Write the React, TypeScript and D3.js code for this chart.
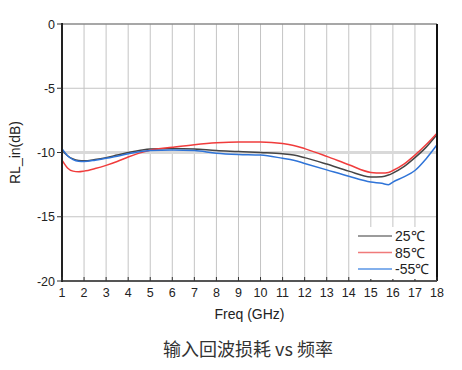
import React from "react";
import * as d3 from "d3";

const freq = [1, 1.25, 1.5, 1.75, 2, 2.5, 3, 3.5, 4, 4.5, 5, 6, 7, 8, 9, 10, 11, 11.5, 12, 13, 14, 15, 15.5, 15.8, 16, 16.5, 17, 17.5, 18];
const rl25 = [-9.8, -10.25, -10.5, -10.62, -10.65, -10.55, -10.4, -10.2, -10.0, -9.85, -9.72, -9.68, -9.72, -9.85, -9.92, -10.0, -10.1, -10.2, -10.4, -10.9, -11.45, -11.9, -11.88, -11.75, -11.6, -11.1, -10.4, -9.6, -8.6];
const rl85 = [-10.6, -11.2, -11.45, -11.5, -11.45, -11.25, -11.0, -10.7, -10.35, -10.05, -9.82, -9.6, -9.4, -9.25, -9.18, -9.18, -9.3, -9.45, -9.7, -10.3, -10.95, -11.55, -11.6, -11.55, -11.4, -10.9, -10.2, -9.4, -8.5];
const rlm55 = [-9.7, -10.25, -10.55, -10.68, -10.7, -10.6, -10.45, -10.3, -10.1, -9.95, -9.85, -9.8, -9.85, -10.05, -10.15, -10.2, -10.45, -10.6, -10.85, -11.35, -11.85, -12.3, -12.4, -12.5, -12.3, -11.9, -11.4, -10.5, -9.4];

const xTicks = d3.range(1, 19);
const yTicks = [0, -5, -10, -15, -20];

const series = [
  { name: "25℃", values: rl25, color: "#454545", legend: "#7a7a7a" },
  { name: "85℃", values: rl85, color: "#f03c3c", legend: "#f07a7a" },
  { name: "-55℃", values: rlm55, color: "#2f74d8", legend: "#5a96e6" },
];

const font = "'Liberation Sans', Arial, Helvetica, sans-serif";

export default function App() {
  const width = 462;
  const height = 370;
  const left = 62;
  const right = 437;
  const top = 24;
  const bottom = 281;

  const x = d3.scaleLinear().domain([1, 18]).range([left, right]);
  const y = d3.scaleLinear().domain([-20, 0]).range([bottom, top]);

  const line = d3
    .line<number>()
    .x((_, i) => x(freq[i]))
    .y((d) => y(d))
    .curve(d3.curveMonotoneX);

  return (
    <svg
      width={width}
      height={height}
      style={{ position: "absolute", left: 0, top: 0, background: "#fff", fontFamily: font }}
    >
      {/* grid */}
      {xTicks.slice(1, -1).map((t) => (
        <line key={"gx" + t} x1={x(t)} x2={x(t)} y1={top} y2={bottom} stroke="#c4c4c4" strokeWidth={1} />
      ))}
      {yTicks.slice(1, -1).map((t) => (
        <line
          key={"gy" + t}
          x1={left}
          x2={right}
          y1={y(t)}
          y2={y(t)}
          stroke={t === -10 ? "#d9d9d9" : "#c4c4c4"}
          strokeWidth={t === -10 ? 3 : 1}
        />
      ))}

      {/* curves */}
      {series.map((s) => (
        <path key={s.name} d={line(s.values) ?? ""} fill="none" stroke={s.color} strokeWidth={1.5} />
      ))}

      {/* frame */}
      <line x1={left} x2={right} y1={top} y2={top} stroke="#8a8a8a" strokeWidth={1.5} />
      <line x1={right} x2={right} y1={top} y2={bottom} stroke="#111" strokeWidth={2} />
      <line x1={left} x2={right} y1={bottom} y2={bottom} stroke="#555" strokeWidth={2} />
      <line x1={left} x2={left} y1={top - 1} y2={bottom + 1} stroke="#222" strokeWidth={2} />

      {/* x ticks */}
      {xTicks.map((t) => (
        <g key={"xt" + t}>
          <line x1={x(t)} x2={x(t)} y1={bottom} y2={bottom - 4} stroke="#333" strokeWidth={1} />
          <text x={x(t)} y={bottom + 16} textAnchor="middle" fontSize={12.5} fill="#222">
            {t}
          </text>
        </g>
      ))}

      {/* y ticks */}
      {yTicks.map((t) => (
        <g key={"yt" + t}>
          <line x1={left - 5} x2={left} y1={y(t)} y2={y(t)} stroke="#333" strokeWidth={1} />
          <text x={left - 7} y={y(t) + 4.5} textAnchor="end" fontSize={12.5} fill="#222">
            {t}
          </text>
        </g>
      ))}

      {/* axis titles */}
      <text
        transform={`translate(20,${(top + bottom) / 2}) rotate(-90)`}
        textAnchor="middle"
        fontSize={14}
        fill="#222"
      >
        RL_in(dB)
      </text>
      <text x={(left + right) / 2} y={319} textAnchor="middle" fontSize={14} fill="#222">
        Freq (GHz)
      </text>

      {/* legend */}
      <rect x={354} y={227} width={82} height={52} fill="#fff" />
      {series.map((s, i) => (
        <g key={"lg" + s.name}>
          <line x1={358} x2={392} y1={236 + i * 16.5} y2={236 + i * 16.5} stroke={s.legend} strokeWidth={1.5} />
          <text x={395} y={241 + i * 16.5} fontSize={14} fill="#222">
            {s.name}
          </text>
        </g>
      ))}

      {/* caption */}
      <text
        x={248}
        y={356}
        textAnchor="middle"
        fontSize={18}
        style={{ fontFamily: "'Noto Sans CJK SC', sans-serif" }}
        fill="#333"
      >
        输入回波损耗 vs 频率
      </text>
    </svg>
  );
}
